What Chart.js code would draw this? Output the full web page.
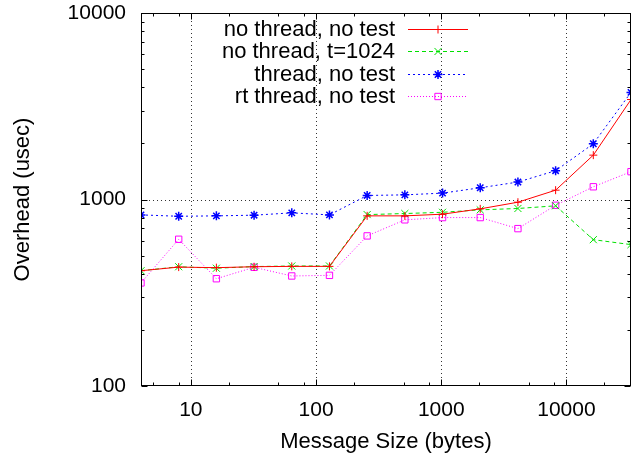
<!DOCTYPE html>
<html>
<head>
<meta charset="utf-8">
<style>
  html, body { margin: 0; padding: 0; background: #fff; }
</style>
</head>
<body>
<canvas id="overheadChart" width="640" height="460"></canvas>
<script src="https://cdn.jsdelivr.net/npm/chart.js@4/dist/chart.umd.min.js"></script>
<script>
// ================= DATA =================
const messageSizes = [4, 8, 16, 32, 64, 128, 256, 512, 1024, 2048, 4096, 8192, 16384, 32768];
const noThreadNoTest = [415, 434, 431, 436, 438, 438, 817, 817, 834, 891, 967, 1122, 1729, 3436];
const noThreadT1024 = [415, 436, 428, 437, 440, 440, 830, 841, 854, 880, 895, 925, 609, 573];
const threadNoTest = [827, 813, 817, 824, 848, 827, 1051, 1059, 1082, 1156, 1240, 1427, 1990, 3753];
const rtThreadNoTest = [357, 612, 376, 433, 389, 392, 638, 778, 800, 800, 698, 931, 1170, 1410];
const seriesLabels = ["no thread, no test", "no thread, t=1024", "thread, no test", "rt thread, no test"];
const xTickLabels = [10, 100, 1000, 10000];
const yTickLabels = [100, 1000, 10000];
const xMinorSteps = [2, 5, 8];
const yMinorSteps = [2, 3, 4, 5, 6, 7, 8, 9];

const FONT = "'Liberation Sans', Arial, Helvetica, sans-serif";

function points(values) {
    return messageSizes.map((x, i) => ({ x: x, y: values[i] }));
}

function minorValues(min, max, steps) {
    const out = [];
    for (let d = 1; d <= max; d *= 10) {
        steps.forEach(s => {
            const v = s * d;
            if (v > min && v < max) out.push(v);
        });
    }
    return out;
}

// gnuplot style frame: dotted grid, inward ticks on all sides, key top right
const gnuplotFrame = {
    id: "gnuplotFrame",
    beforeDatasetsDraw(chart) {
        const { ctx, chartArea: a, scales: { x, y } } = chart;
        ctx.save();
        ctx.strokeStyle = "#333";
        ctx.lineWidth = 1;
        ctx.setLineDash([1, 3]);
        xTickLabels.forEach(v => {
            const px = Math.round(x.getPixelForValue(v)) + 0.5;
            ctx.beginPath();
            ctx.moveTo(px, a.top);
            ctx.lineTo(px, a.bottom);
            ctx.stroke();
        });
        yTickLabels.forEach(v => {
            if (v <= y.min || v >= y.max) return;
            const py = Math.round(y.getPixelForValue(v)) + 0.5;
            ctx.beginPath();
            ctx.moveTo(a.left, py);
            ctx.lineTo(a.right, py);
            ctx.stroke();
        });
        ctx.restore();
    },
    afterDatasetsDraw(chart) {
        const { ctx, chartArea: a, scales: { x, y } } = chart;
        ctx.save();
        ctx.setLineDash([]);
        ctx.strokeStyle = "#000";
        ctx.lineWidth = 1;

        const l = Math.round(a.left) + 0.5, r = Math.round(a.right) - 0.5;
        const t = Math.round(a.top) + 0.5, b = Math.round(a.bottom) - 0.5;

        function xTick(v, len) {
            const px = Math.round(x.getPixelForValue(v)) + 0.5;
            ctx.beginPath();
            ctx.moveTo(px, b); ctx.lineTo(px, b - len);
            ctx.moveTo(px, t); ctx.lineTo(px, t + len);
            ctx.stroke();
        }
        function yTick(v, len) {
            const py = Math.round(y.getPixelForValue(v)) + 0.5;
            ctx.beginPath();
            ctx.moveTo(l, py); ctx.lineTo(l + len, py);
            ctx.moveTo(r, py); ctx.lineTo(r - len, py);
            ctx.stroke();
        }
        xTickLabels.forEach(v => xTick(v, 6));
        minorValues(x.min, x.max, xMinorSteps).forEach(v => xTick(v, 3));
        yTickLabels.forEach(v => yTick(v, 6));
        minorValues(y.min, y.max, yMinorSteps).forEach(v => yTick(v, 3));

        ctx.strokeRect(l, t, r - l, b - t);

        // key
        ctx.font = "22px " + FONT;
        ctx.textAlign = "right";
        ctx.textBaseline = "middle";
        chart.data.datasets.forEach((ds, i) => {
            const rowY = Math.round(29 + i * 22.4);
            ctx.fillStyle = "#000";
            ctx.fillText(ds.label, 395, rowY + 1);
            ctx.strokeStyle = ds.borderColor;
            ctx.lineWidth = ds.borderWidth;
            ctx.setLineDash(ds.borderDash || []);
            ctx.beginPath();
            ctx.moveTo(408, rowY + 0.5);
            ctx.lineTo(468, rowY + 0.5);
            ctx.stroke();
            ctx.setLineDash([]);
            ctx.lineWidth = ds.pointBorderWidth || 1;
            ctx.strokeStyle = ds.borderColor;
            ctx.fillStyle = "rgba(0,0,0,0)";
            Chart.helpers.drawPoint(ctx, {
                pointStyle: ds.pointStyle,
                radius: ds.pointRadius,
                rotation: 0,
                borderWidth: ds.pointBorderWidth || 1
            }, 438, rowY + 0.5);
        });
        ctx.restore();
    }
};

// ================= OVERHEAD VS MESSAGE SIZE =================
new Chart(document.getElementById("overheadChart"), {
    type: "line",
    data: {
        datasets: [
            {
                label: seriesLabels[0],
                data: points(noThreadNoTest),
                borderColor: "#ff0000",
                backgroundColor: "rgba(0,0,0,0)",
                borderWidth: 1,
                pointStyle: "cross",
                pointRadius: 4
            },
            {
                label: seriesLabels[1],
                data: points(noThreadT1024),
                borderColor: "#00e000",
                backgroundColor: "rgba(0,0,0,0)",
                borderWidth: 1,
                borderDash: [4, 3],
                pointStyle: "crossRot",
                pointRadius: 5
            },
            {
                label: seriesLabels[2],
                data: points(threadNoTest),
                borderColor: "#0000ff",
                backgroundColor: "rgba(0,0,0,0)",
                borderWidth: 1,
                borderDash: [2, 3],
                pointStyle: "star",
                pointRadius: 4.5,
                pointBorderWidth: 1.5
            },
            {
                label: seriesLabels[3],
                data: points(rtThreadNoTest),
                borderColor: "#ff00ff",
                backgroundColor: "rgba(0,0,0,0)",
                borderWidth: 1,
                borderDash: [1, 2],
                pointStyle: "rect",
                pointRadius: 4.5
            }
        ]
    },
    options: {
        responsive: false,
        animation: false,
        devicePixelRatio: 1,
        layout: { padding: { top: 13, right: 9, left: 0, bottom: 0 } },
        elements: {
            line: { tension: 0 },
            point: { borderWidth: 1, hoverRadius: 4 }
        },
        plugins: {
            legend: { display: false },
            tooltip: { enabled: false }
        },
        scales: {
            x: {
                type: "logarithmic",
                position: "bottom",
                min: 4,
                max: 32768,
                grid: { display: false, drawTicks: false },
                border: { display: false },
                ticks: {
                    autoSkip: false,
                    maxRotation: 0,
                    padding: 12,
                    color: "#000",
                    font: { family: FONT, size: 21 },
                    callback: v => xTickLabels.includes(v) ? String(v) : ""
                },
                title: {
                    display: true,
                    text: "Message Size (bytes)",
                    color: "#000",
                    font: { family: FONT, size: 22 },
                    padding: { top: 0, bottom: 5 }
                },
                afterFit: s => {
                    s.height = 74;
                    s.paddingLeft = 0;
                    s.paddingRight = 0;
                }
            },
            y: {
                type: "logarithmic",
                position: "left",
                min: 100,
                max: 10000,
                grid: { display: false, drawTicks: false },
                border: { display: false },
                ticks: {
                    autoSkip: false,
                    padding: 15,
                    color: "#000",
                    font: { family: FONT, size: 21 },
                    callback: v => yTickLabels.includes(v) ? String(v) : ""
                },
                title: {
                    display: true,
                    text: "Overhead (usec)",
                    color: "#000",
                    font: { family: FONT, size: 22 },
                    padding: { top: 10, bottom: 0 }
                },
                afterFit: s => {
                    s.width = 141;
                    s.paddingTop = 0;
                    s.paddingBottom = 0;
                }
            }
        }
    },
    plugins: [gnuplotFrame]
});
</script>
</body>
</html>
